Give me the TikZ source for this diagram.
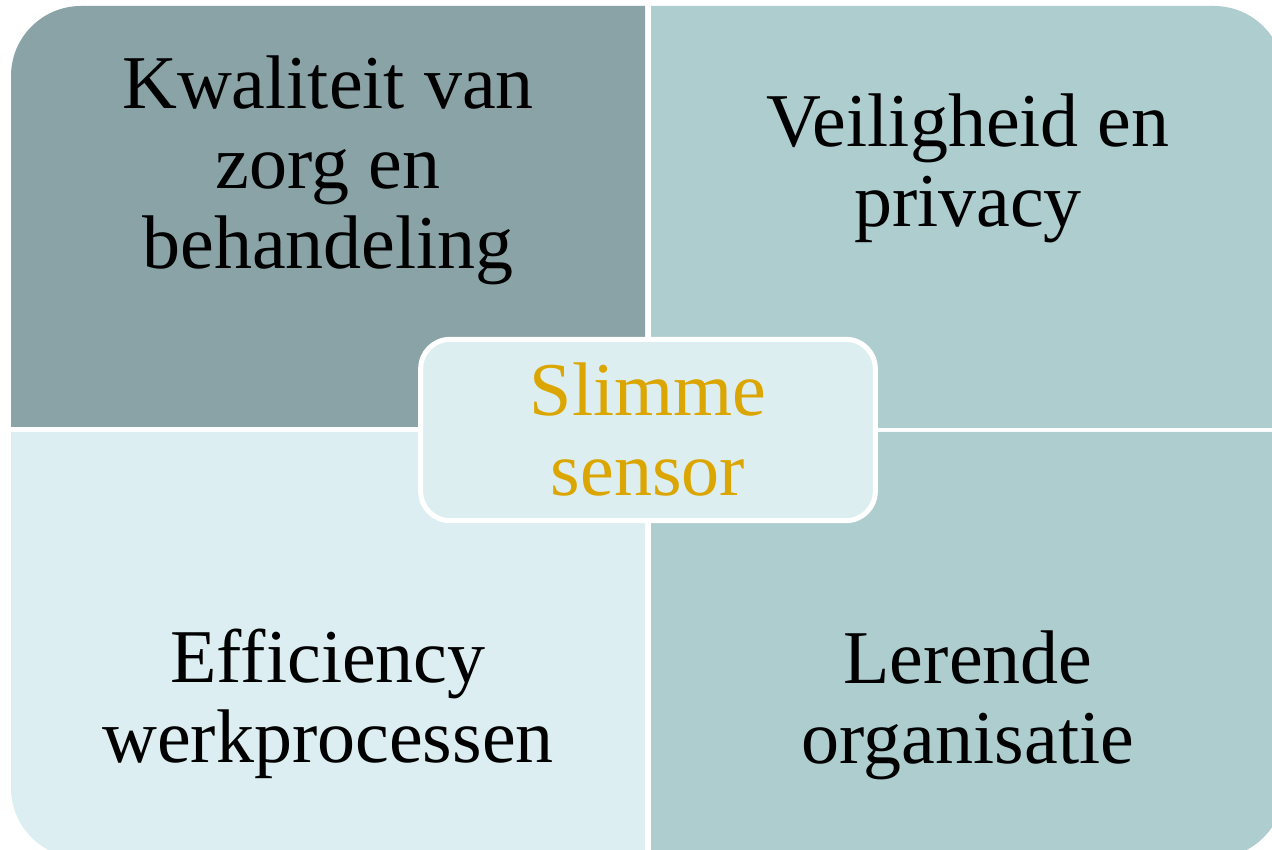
\documentclass[tikz,border=0pt]{standalone}
\usepackage{fontspec}
\setmainfont{Liberation Serif}
\definecolor{qtl}{HTML}{8AA3A6}
\definecolor{qtr}{HTML}{AECDCF}
\definecolor{qbl}{HTML}{DCEEF1}
\definecolor{qbr}{HTML}{AECDCF}
\definecolor{cfill}{HTML}{DDEEF1}
\definecolor{gold}{HTML}{DCA600}
\tikzset{
  qtext/.style={align=center, inner sep=0pt, font=\fontsize{57}{60}\selectfont, text=black},
  centerbox/.style={draw=white, line width=3.75pt, fill=cfill, rounded corners=22pt,
    minimum width=341pt, minimum height=136pt, inner sep=0pt, align=center,
    font=\fontsize{57}{60}\selectfont, text=gold}
}
\begin{document}
\begin{tikzpicture}[x=0.75pt,y=0.75pt]
\useasboundingbox (0,0) rectangle (1272,850);
\clip (0,0) rectangle (1272,850);
% quadrants
\fill[qtl] (645,423) -- (11,423) -- (11,774) arc[start angle=180,end angle=90,radius=70] -- (645,844) -- cycle;
\fill[qtr] (651,422) -- (651,844) -- (1214,844) arc[start angle=90,end angle=0,radius=70] -- (1284,422) -- cycle;
\fill[qbl] (645,418) -- (11,418) -- (11,62) arc[start angle=180,end angle=270,radius=70] -- (645,-8) -- cycle;
\fill[qbr] (651,418) -- (1284,418) -- (1284,62) arc[start angle=0,end angle=-90,radius=70] -- (651,-8) -- cycle;
% texts
\node[qtext] (kwal) at (328,680) {Kwaliteit van\\zorg en\\behandeling};
\node[qtext] (veil) at (968,682) {Veiligheid en\\privacy};
\node[qtext] (eff) at (328,146) {Efficiency\\werkprocessen};
\node[qtext] (ler) at (968,145) {Lerende\\organisatie};
% center
\node[centerbox] (slim) at (648,420) {Slimme\\sensor};
\end{tikzpicture}
\end{document}
